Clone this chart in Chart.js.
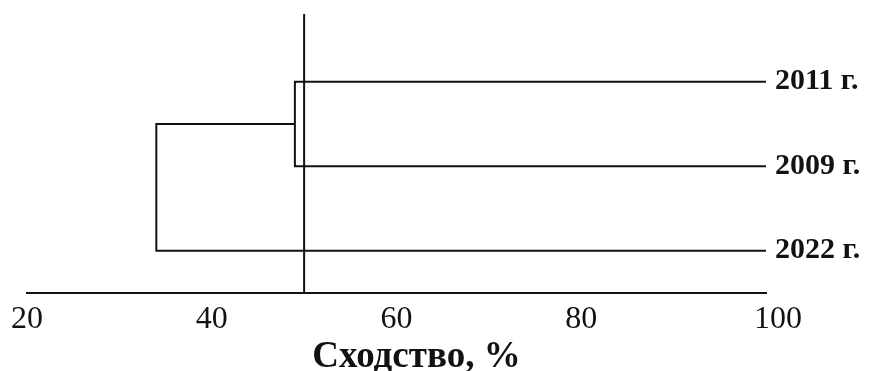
<!DOCTYPE html>
<html>
<head>
<meta charset="utf-8">
<script src="https://cdn.jsdelivr.net/npm/chart.js@4/dist/chart.umd.min.js"></script>
<style>
  html, body { margin: 0; padding: 0; background: #ffffff; }
  #wrap { width: 874px; height: 371px; }
</style>
</head>
<body>
<div id="wrap"><canvas id="c" width="874" height="371"></canvas></div>
<script>
// Leaves of the dendrogram, top to bottom, with their row positions
const leafLabels = ['2011 г.', '2009 г.', '2022 г.'];
const leafRows = [3, 2, 1];
// Similarity (%) at which clusters merge
const mergeFirst = 49;   // 2011 г. + 2009 г.
const mergeRoot = 34;    // (2011 + 2009) + 2022 г.
// Leaf end of every branch and the threshold line
const leafLevel = 100;
const threshold = 50;
// Axis ticks
const xTicks = [20, 40, 60, 80, 100];
const axisTitle = 'Сходство, %';

const INK = '#121212';
const SERIF = "'Liberation Serif', 'Times New Roman', serif";

const clusterRow = (leafRows[0] + leafRows[1]) / 2;
const yMin = 0.5, yMax = 3.8;

const branchStyle = {
  showLine: true, borderColor: INK, borderWidth: 2, pointRadius: 0,
  borderJoinStyle: 'miter', borderCapStyle: 'butt', tension: 0, fill: false
};

const datasets = [
  // first merge: 2011 г. and 2009 г.
  Object.assign({ data: [
    { x: leafLevel, y: leafRows[0] }, { x: mergeFirst, y: leafRows[0] },
    { x: mergeFirst, y: leafRows[1] }, { x: leafLevel, y: leafRows[1] }
  ] }, branchStyle),
  // root merge with 2022 г.
  Object.assign({ data: [
    { x: mergeFirst, y: clusterRow }, { x: mergeRoot, y: clusterRow },
    { x: mergeRoot, y: leafRows[2] }, { x: leafLevel, y: leafRows[2] }
  ] }, branchStyle),
  // threshold line
  Object.assign({ data: [ { x: threshold, y: yMin }, { x: threshold, y: yMax } ] }, branchStyle)
];

// axis title under the similarity scale
const titlePlugin = {
  id: 'axisTitleText',
  afterDraw(chart) {
    const ctx = chart.ctx, a = chart.chartArea;
    ctx.save();
    ctx.font = 'bold 37px ' + SERIF;
    ctx.fillStyle = INK;
    ctx.textAlign = 'center';
    ctx.textBaseline = 'alphabetic';
    ctx.fillText(axisTitle, (a.left + a.right) / 2 + 20, 367);
    ctx.restore();
  }
};

new Chart(document.getElementById('c'), {
  type: 'scatter',
  data: { datasets },
  plugins: [titlePlugin],
  options: {
    responsive: false,
    animation: false,
    devicePixelRatio: 1,
    layout: { padding: { left: 27, top: 14, right: 0, bottom: 0 } },
    plugins: { legend: { display: false }, tooltip: { enabled: false } },
    scales: {
      x: {
        type: 'linear', position: 'bottom', min: 20, max: 100,
        afterBuildTicks(s) { s.ticks = xTicks.map(v => ({ value: v })); },
        afterFit(s) { s.height = 78; s.paddingLeft = 0; s.paddingRight = 0; },
        grid: { display: false, drawTicks: false },
        border: { display: true, color: INK, width: 2 },
        ticks: {
          color: INK, padding: 7, maxRotation: 0, autoSkip: false,
          font: { family: SERIF, size: 32 },
          // the last label sits to the right of its tick
          callback(v) { return v === 100 ? '   ' + v : String(v); }
        }
      },
      y: {
        type: 'linear', position: 'right', min: yMin, max: yMax,
        afterBuildTicks(s) { s.ticks = leafRows.map(v => ({ value: v })); },
        afterFit(s) { s.width = 108; s.paddingTop = 0; s.paddingBottom = 0; },
        grid: { display: false, drawTicks: false },
        border: { display: false },
        ticks: {
          color: INK, padding: 9, font: { family: SERIF, size: 30, weight: 'bold' },
          callback(v) { const i = leafRows.indexOf(v); return i >= 0 ? leafLabels[i] : ''; }
        }
      }
    }
  }
});
</script>
</body>
</html>
